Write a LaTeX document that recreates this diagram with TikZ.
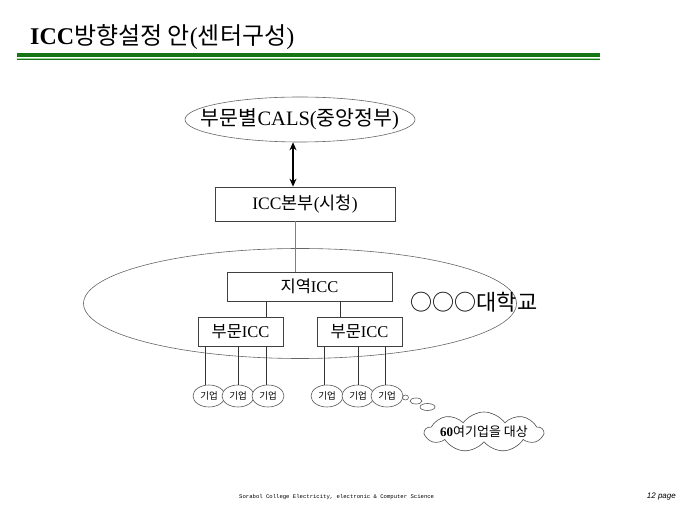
\documentclass[tikz,border=0pt]{standalone}
\usepackage{fontspec}
\setmainfont{Liberation Serif}
\newfontfamily\kr{Noto Sans CJK KR}
\newfontfamily\footfont{Liberation Mono}
\newfontfamily\pagefont{Liberation Sans}
\usetikzlibrary{shapes.geometric,shapes.symbols,arrows.meta}
\definecolor{bargreen}{RGB}{22,118,22}
\definecolor{barlight}{RGB}{160,215,160}

\begin{document}
\begin{tikzpicture}[x=1pt,y=-1pt,
    box/.style={draw=black!75,line width=0.7pt,inner sep=0pt,minimum height=29pt,font=\fontsize{16.5}{16.5}\selectfont},
    firm/.style={ellipse,draw=black!65,fill=white,line width=0.6pt,inner sep=0pt,minimum width=32pt,minimum height=22pt,font=\kr\fontsize{9.5}{9.5}\selectfont},
    oval/.style={ellipse,draw=black!60,line width=0.6pt,inner sep=0pt},
    wire/.style={black!80,line width=0.6pt}]
    \useasboundingbox (0,0) rectangle (680,510);

    % title and bar
    \node[anchor=base west,inner sep=0pt,font=\fontsize{24}{24}\selectfont] (title) at (30,45)
        {\textbf{ICC}{\kr 방향설정 안}({\kr 센터구성})};
    \draw[bargreen,line width=4.6pt] (17,55) -- (600,55);
    \draw[barlight,line width=1pt]   (17,58.3) -- (600,58.3);
    \draw[bargreen,line width=1pt]   (17,59.6) -- (600,59.6);

    % central government
    \node[oval,minimum width=230pt,minimum height=45pt] (cals) at (300,119.5) {};
    \node[font=\fontsize{20.5}{20.5}\selectfont] (calstext) at (cals) {{\kr 부문별}CALS({\kr 중앙정부})};

    \node[box,minimum width=180pt,minimum height=34pt,font=\fontsize{17.5}{17.5}\selectfont] (hq) at (305,204)
        {ICC{\kr 본부}({\kr 시청})};
    \draw[{Stealth[length=8pt,width=7pt]}-{Stealth[length=8pt,width=7pt]},line width=1.6pt]
        (cals.south -| 293,0) -- (hq.north -| 293,0);

    % university
    \node[oval,minimum width=433pt,minimum height=110pt] (campus) at (300,303.5) {};
    \node[font=\kr\fontsize{22}{22}\selectfont] (campustext) at (474,302) {○○○대학교};

    \node[box,minimum width=165pt] (region) at (309.5,286.5) {{\kr 지역}ICC};
    \node[box,minimum width=85pt]  (secL)   at (240.5,331.5) {{\kr 부문}ICC};
    \node[box,minimum width=85pt]  (secR)   at (359.5,331.5) {{\kr 부문}ICC};

    \draw[black!50,line width=0.7pt] (hq.south -| 295,0) -- (region.north -| 295,0);
    \draw[wire] (region.south -| 266,0) -- (secL.north -| 266,0);
    \draw[wire] (region.south -| 340,0) -- (secR.north -| 340,0);

    % firms
    \node[firm] (f1) at (209,396) {기업};
    \node[firm] (f2) at (238,396) {기업};
    \node[firm] (f3) at (268,396) {기업};
    \node[firm] (f4) at (327,396) {기업};
    \node[firm] (f5) at (358,396) {기업};
    \node[firm] (f6) at (387,396) {기업};

    \draw[wire] (f1.108 |- secL.south) -- (f1.108);
    \draw[wire] (f2.north |- secL.south) -- (f2.north);
    \draw[wire] (f3.97 |- secL.south) -- (f3.97);
    \draw[wire] (f4.104 |- secR.south) -- (f4.104);
    \draw[wire] (f5.north |- secR.south) -- (f5.north);
    \draw[wire] (f6.97 |- secR.south) -- (f6.97);

    % thought bubble
    \draw[black!65,line width=0.6pt] (405.5,397.5) ellipse [x radius=3pt,y radius=2.5pt];
    \draw[black!65,line width=0.6pt] (416,401) ellipse [x radius=6pt,y radius=3pt];
    \draw[black!65,line width=0.6pt] (427.5,407) ellipse [x radius=7.5pt,y radius=3.5pt];
    \node[cloud,cloud puffs=9,cloud puff arc=110,draw=black!70,line width=0.6pt,
          minimum width=118pt,minimum height=40pt,inner sep=0pt] (note) at (484,432) {};
    \node[font=\kr\fontsize{13}{13}\selectfont] (notetext) at (note) {{\rmfamily\bfseries 60}여기업을 대상};

    % footer
    \node[anchor=west,inner sep=0pt,font=\footfont\fontsize{5.6}{6}\selectfont] (foot) at (239,497)
        {Sorabol College Electricity, electronic \& Computer Science};
    \node[anchor=east,inner sep=0pt,font=\pagefont\itshape\fontsize{8}{8}\selectfont] (page) at (676,497) {12 page};
\end{tikzpicture}
\end{document}
